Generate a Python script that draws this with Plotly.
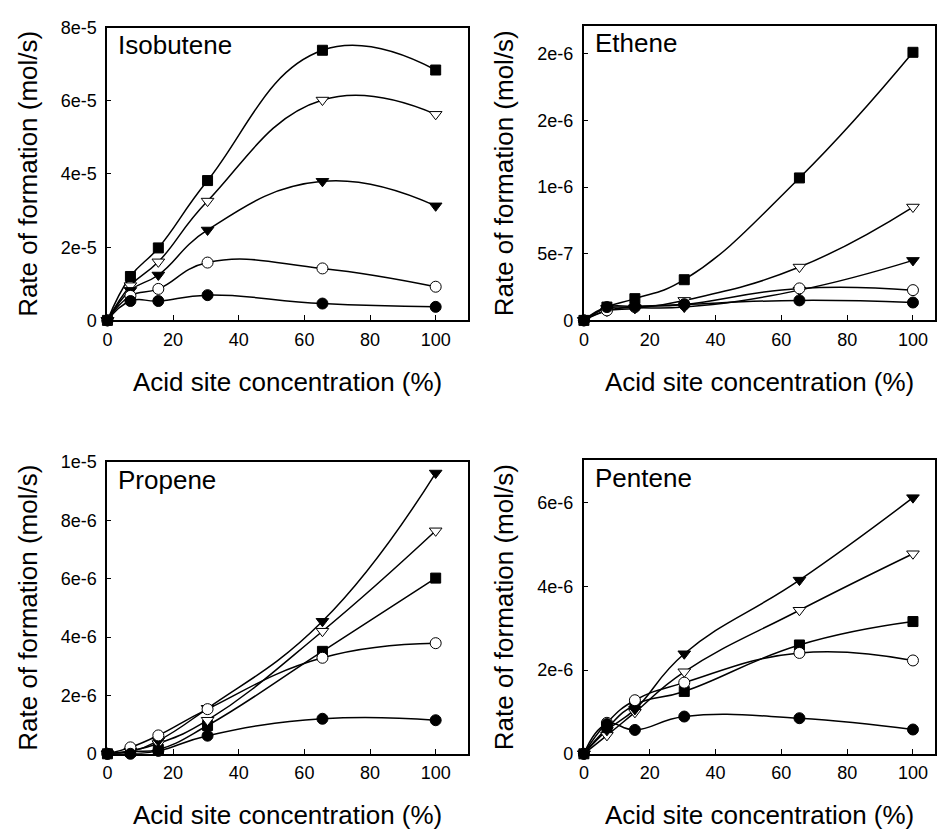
import plotly.graph_objects as go

W, H = 937, 837

# ---------------- data ----------------
x_conc = [0, 7, 15.5, 30.5, 65.5, 100]

iso_sq   = [0, 1.20e-5, 1.98e-5, 3.82e-5, 7.38e-5, 6.84e-5]
iso_otri = [0, 0.95e-5, 1.60e-5, 3.26e-5, 6.02e-5, 5.63e-5]
iso_ftri = [0, 0.82e-5, 1.24e-5, 2.47e-5, 3.80e-5, 3.13e-5]
iso_ocir = [0, 0.67e-5, 0.86e-5, 1.58e-5, 1.42e-5, 0.92e-5]
iso_fcir = [0, 0.53e-5, 0.53e-5, 0.69e-5, 0.46e-5, 0.37e-5]

eth_sq   = [0, 1.00e-7, 1.63e-7, 3.05e-7, 1.068e-6, 2.01e-6]
eth_otri = [0, 0.70e-7, 0.90e-7, 1.50e-7, 4.00e-7, 8.50e-7]
eth_ftri = [0, 0.90e-7, 0.95e-7, 1.00e-7, 2.27e-7, 4.50e-7]
eth_ocir = [0, 0.75e-7, 1.00e-7, 1.20e-7, 2.40e-7, 2.27e-7]
eth_fcir = [0, 1.00e-7, 1.05e-7, 1.20e-7, 1.50e-7, 1.34e-7]

pro_sq   = [0, 0.08e-6, 0.15e-6, 0.97e-6, 3.51e-6, 6.02e-6]
pro_otri = [0, 0.10e-6, 0.35e-6, 1.15e-6, 4.20e-6, 7.64e-6]
pro_ftri = [0, 0.08e-6, 0.45e-6, 1.56e-6, 4.54e-6, 9.62e-6]
pro_ocir = [0, 0.22e-6, 0.63e-6, 1.53e-6, 3.29e-6, 3.79e-6]
pro_fcir = [0, 0.00e-6, 0.10e-6, 0.62e-6, 1.20e-6, 1.15e-6]

pen_sq   = [0, 0.61e-6, 1.17e-6, 1.49e-6, 2.60e-6, 3.16e-6]
pen_otri = [0, 0.44e-6, 0.99e-6, 1.96e-6, 3.43e-6, 4.78e-6]
pen_ftri = [0, 0.56e-6, 1.06e-6, 2.39e-6, 4.15e-6, 6.12e-6]
pen_ocir = [0, 0.74e-6, 1.28e-6, 1.70e-6, 2.41e-6, 2.23e-6]
pen_fcir = [0, 0.71e-6, 0.57e-6, 0.89e-6, 0.85e-6, 0.58e-6]

x_tickvals = [0, 20, 40, 60, 80, 100]
x_ticktext = ["0", "20", "40", "60", "80", "100"]

iso_tickvals = [0, 2e-5, 4e-5, 6e-5, 8e-5]
iso_ticktext = ["0", "2e-5", "4e-5", "6e-5", "8e-5"]
eth_tickvals = [0, 5e-7, 1e-6, 1.5e-6, 2e-6]
eth_ticktext = ["0", "5e-7", "1e-6", "2e-6", "2e-6"]
pro_tickvals = [0, 2e-6, 4e-6, 6e-6, 8e-6, 1e-5]
pro_ticktext = ["0", "2e-6", "4e-6", "6e-6", "8e-6", "1e-5"]
pen_tickvals = [0, 2e-6, 4e-6, 6e-6]
pen_ticktext = ["0", "2e-6", "4e-6", "6e-6"]

panel_names = ["Isobutene", "Ethene", "Propene", "Pentene"]
x_title = "Acid site concentration (%)"
y_title = "Rate of formation (mol/s)"

# ---------------- styling ----------------
FONT = "Arial, Liberation Sans, sans-serif"
series_styles = [
    dict(symbol="square", color="black", size=10),
    dict(symbol="triangle-down", color="white", size=11),
    dict(symbol="triangle-down", color="black", size=11),
    dict(symbol="circle", color="white", size=11),
    dict(symbol="circle", color="black", size=11),
]
series_names = ["filled square", "open triangle", "filled triangle", "open circle", "filled circle"]

panels = [
    dict(data=[iso_sq, iso_otri, iso_ftri, iso_ocir, iso_fcir], tv=iso_tickvals, tt=iso_ticktext,
         yr=[0, 8e-5], xr=[0, 109.7], px=(103, 465), py=(18, 318)),
    dict(data=[eth_sq, eth_otri, eth_ftri, eth_ocir, eth_fcir], tv=eth_tickvals, tt=eth_ticktext,
         yr=[0, 2.21e-6], xr=[0, 106.7], px=(582, 935), py=(16, 318)),
    dict(data=[pro_sq, pro_otri, pro_ftri, pro_ocir, pro_fcir], tv=pro_tickvals, tt=pro_ticktext,
         yr=[0, 1e-5], xr=[0, 109.7], px=(103, 465), py=(463, 762)),
    dict(data=[pen_sq, pen_otri, pen_ftri, pen_ocir, pen_fcir], tv=pen_tickvals, tt=pen_ticktext,
         yr=[0, 7.02e-6], xr=[0, 106.7], px=(582, 935), py=(461, 762)),
]

fig = go.Figure()
layout = dict(width=W, height=H, margin=dict(l=0, r=0, t=0, b=0),
              paper_bgcolor="white", plot_bgcolor="white", showlegend=False,
              font=dict(family=FONT, color="black"))
annotations = []

for i, p in enumerate(panels):
    k = "" if i == 0 else str(i + 1)
    xa, ya = "x" + k, "y" + k
    for s, ys in enumerate(p["data"]):
        fig.add_trace(go.Scatter(
            x=x_conc, y=ys, mode="lines", xaxis=xa, yaxis=ya,
            line=dict(color="black", width=1.5, shape="spline", smoothing=1.3),
            name=series_names[s], hoverinfo="skip", cliponaxis=False))
    for s, ys in enumerate(p["data"]):
        st = series_styles[s]
        fig.add_trace(go.Scatter(
            x=x_conc, y=ys, mode="markers", xaxis=xa, yaxis=ya,
            marker=dict(symbol=st["symbol"], color=st["color"], size=st["size"],
                        line=dict(color="black", width=1)),
            name=series_names[s], cliponaxis=False))
    x0, x1 = p["px"]
    y0, y1 = p["py"]
    dx = [x0 / W, x1 / W]
    dy = [1 - y1 / H, 1 - y0 / H]
    layout["xaxis" + k] = dict(
        domain=dx, range=p["xr"], anchor=ya, tickvals=x_tickvals, ticktext=x_ticktext,
        ticks="inside", ticklen=5, tickwidth=1, tickcolor="black", ticklabelstandoff=2,
        showline=True, linecolor="black", linewidth=2, mirror=True,
        showgrid=False, zeroline=False, tickfont=dict(size=18, family=FONT))
    layout["yaxis" + k] = dict(
        domain=dy, range=p["yr"], anchor=xa, tickvals=p["tv"], ticktext=p["tt"],
        ticks="inside", ticklen=4, tickwidth=1, tickcolor="black", ticklabelstandoff=5,
        showline=True, linecolor="black", linewidth=2, mirror=True,
        showgrid=False, zeroline=False, tickfont=dict(size=18, family=FONT))
    annotations.append(dict(text=panel_names[i], x=(x0 + 9) / W, y=1 - (y0 + 18) / H,
                            xref="paper", yref="paper", xanchor="left", yanchor="middle",
                            showarrow=False, font=dict(size=26, family=FONT)))
    annotations.append(dict(text=x_title, x=(x0 + x1) / 2 / W, y=1 - (y1 + 63) / H,
                            xref="paper", yref="paper", xanchor="center", yanchor="middle",
                            showarrow=False, font=dict(size=26, family=FONT)))
    annotations.append(dict(text=y_title, x=(x0 - 80) / W, y=1 - (y0 + y1) / 2 / H,
                            xref="paper", yref="paper", xanchor="center", yanchor="middle",
                            textangle=-90, showarrow=False, font=dict(size=26, family=FONT)))

layout["annotations"] = annotations
fig.update_layout(**layout)
fig.write_html("out.html")
